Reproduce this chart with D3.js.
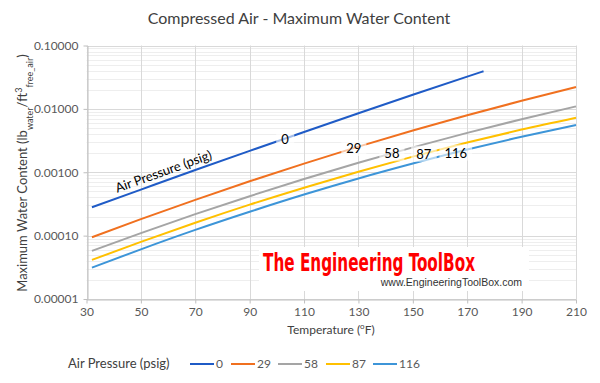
<!DOCTYPE html>
<html><head><meta charset="utf-8">
<script src="https://cdn.jsdelivr.net/npm/d3@7"></script>
<style>
body{margin:0;background:#fff;}
svg{display:block;font-family:Lato,"Open Sans",sans-serif;}
</style></head>
<body><svg id="c" width="600" height="383"></svg>
<script>
const temps = [32,50,70,90,110,130,150,170,190,210];
const temps0 = [32,50,70,90,110,130,150,170,176];
const p0   = [2.81e-4,5.33e-4,1.083e-3,2.175e-3,4.32e-3,8.52e-3,0.01668,0.0323,0.0393];
const p29  = [9.44e-5,1.82e-4,3.67e-4,7.21e-4,1.37e-3,2.54e-3,4.55e-3,7.93e-3,0.01343,0.02208];
const p58  = [5.74e-5,1.094e-4,2.18e-4,4.19e-4,7.82e-4,1.41e-3,2.47e-3,4.18e-3,6.88e-3,0.01094];
const p87  = [4.14e-5,7.96e-5,1.596e-4,3.08e-4,5.71e-4,1.021e-3,1.766e-3,2.94e-3,4.71e-3,7.26e-3];
const p116 = [3.13e-5,6.08e-5,1.23e-4,2.38e-4,4.45e-4,7.98e-4,1.372e-3,2.28e-3,3.63e-3,5.57e-3];
const seriesNames = ["0","29","58","87","116"];
const labelTemps = [103,128.3,142.3,154,165.8];
const xTicks = [30,50,70,90,110,130,150,170,190,210];
const yTicks = [0.00001,0.0001,0.001,0.01,0.1];
const colors = ["#1f5bc6","#f0701f","#a5a5a5","#ffc000","#3d95d8"];

const series = [
  {name:seriesNames[0], t:temps0, v:p0},
  {name:seriesNames[1], t:temps, v:p29},
  {name:seriesNames[2], t:temps, v:p58},
  {name:seriesNames[3], t:temps, v:p87},
  {name:seriesNames[4], t:temps, v:p116}
];

const svg = d3.select("#c");
const x = d3.scaleLinear().domain([30,210]).range([86.5,576]);
const y = d3.scaleLog().domain([1e-5,0.1]).range([299,45.5]);

// minor gridlines
const minor = [];
for (let e=-5;e<-1;e++) for (let m=2;m<=9;m++) minor.push(m*Math.pow(10,e));
svg.append("g").selectAll("line").data(minor).join("line")
  .attr("x1",x(30)).attr("x2",x(210))
  .attr("y1",d=>Math.round(y(d))+0.5).attr("y2",d=>Math.round(y(d))+0.5)
  .attr("stroke","#eeeeee").attr("stroke-width",1);
// major gridlines
svg.append("g").selectAll("line").data(yTicks).join("line")
  .attr("x1",x(30)).attr("x2",x(210))
  .attr("y1",d=>Math.round(y(d))+0.5).attr("y2",d=>Math.round(y(d))+0.5)
  .attr("stroke","#d9d9d9").attr("stroke-width",1);
svg.append("g").selectAll("line").data(xTicks).join("line")
  .attr("x1",d=>Math.round(x(d))+0.5).attr("x2",d=>Math.round(x(d))+0.5)
  .attr("y1",y(0.1)).attr("y2",y(1e-5))
  .attr("stroke","#d9d9d9").attr("stroke-width",1);

// axes
const xAxis = svg.append("g").attr("transform",`translate(0,${Math.round(y(1e-5))+0.5})`)
  .call(d3.axisBottom(x).tickValues(xTicks).tickSize(4).tickSizeOuter(0).tickPadding(4));
xAxis.select(".domain").attr("stroke","#bfbfbf");
xAxis.selectAll(".tick line").attr("stroke","#bfbfbf");
xAxis.selectAll("text").attr("fill","#595959").style("font-size","12px").style("font-family","Lato,sans-serif");

const yAxis = svg.append("g").attr("transform",`translate(${Math.round(x(30))+0.5},0)`)
  .call(d3.axisLeft(y).tickValues(yTicks).tickFormat(d3.format(".5f")).tickSize(4).tickSizeOuter(0).tickPadding(5));
yAxis.select(".domain").attr("stroke","#bfbfbf");
yAxis.selectAll(".tick line").attr("stroke","#bfbfbf");
yAxis.selectAll("text").attr("fill","#595959").style("font-size","12px").style("font-family","Lato,sans-serif");

// watermark
svg.append("rect").attr("x",259).attr("y",247).attr("width",270).attr("height",44).attr("fill","#fff");
svg.append("text").attr("x",263).attr("y",271).attr("textLength",212).attr("lengthAdjust","spacingAndGlyphs")
  .attr("fill","#ff0000").style("font-family","'Liberation Sans Narrow','DejaVu Sans Condensed',sans-serif")
  .style("font-weight","bold").style("font-size","24px").text("The Engineering ToolBox");
svg.append("text").attr("x",522).attr("y",286).attr("text-anchor","end")
  .attr("fill","#333").style("font-family","'Liberation Sans',Arial,sans-serif").style("font-size","10.5px")
  .text("www.EngineeringToolBox.com");

// lines
const line = d3.line().curve(d3.curveMonotoneX);
series.forEach((s,i)=>{
  const pts = s.t.map((t,j)=>[x(t),y(s.v[j])]);
  svg.append("path").attr("d",line(pts)).attr("fill","none")
    .attr("stroke",colors[i]).attr("stroke-width",2);
});

function interpY(s,t){
  const lv = s.v.map(Math.log10);
  const yy = d3.scaleLinear().domain(s.t).range(lv);
  return y(Math.pow(10,yy(t)));
}

// data labels
series.forEach((s,i)=>{
  const t = labelTemps[i];
  const cx = x(t), cy = interpY(s,t);
  const txt = svg.append("text").attr("x",cx).attr("y",cy+5).attr("text-anchor","middle")
    .attr("fill","#000").style("font-size","13px").text(s.name);
  const bb = txt.node().getBBox();
  svg.insert("rect", () => txt.node()).attr("x",bb.x-5).attr("y",bb.y).attr("width",bb.width+10).attr("height",bb.height)
    .attr("fill","#fff").attr("fill-opacity",0.6);
});

// rotated annotation along blue line
{
  const s = series[0];
  const t = 59.5;
  const px = x(t), py = interpY(s,t);
  const x1 = x(50), y1 = interpY(s,50), x2 = x(70), y2 = interpY(s,70);
  const ang = Math.atan2(y2-y1,x2-x1)*180/Math.PI;
  svg.append("text").attr("transform",`translate(${px},${py}) rotate(${ang})`)
    .attr("y",-5).attr("text-anchor","middle").attr("fill","#000").style("font-size","13px")
    .text("Air Pressure (psig)");
}

// title
svg.append("text").attr("x",299).attr("y",24).attr("text-anchor","middle")
  .attr("fill","#404040").style("font-size","16px").text("Compressed Air - Maximum Water Content");

// axis titles
svg.append("text").attr("x",331).attr("y",334).attr("text-anchor","middle").attr("fill","#404040")
  .style("font-size","12px")
  .call(t=>{t.append("tspan").text("Temperature (");
    t.append("tspan").attr("baseline-shift","super").style("font-size","8px").text("o");
    t.append("tspan").text("F)");});

const yt = svg.append("text").attr("transform",`translate(27,173) rotate(-90)`).attr("text-anchor","middle")
  .attr("fill","#404040").style("font-size","13px");
yt.append("tspan").text("Maximum Water Content (lb");
yt.append("tspan").attr("baseline-shift","sub").style("font-size","9px").text("water");
yt.append("tspan").text("/ft");
yt.append("tspan").attr("baseline-shift","super").style("font-size","9px").text("3");
yt.append("tspan").attr("baseline-shift","sub").style("font-size","9px").text("free_air");
yt.append("tspan").text(")");

// legend
svg.append("text").attr("x",68).attr("y",368).attr("fill","#404040").style("font-size","13px").text("Air Pressure (psig)");
const legX = [190,231,278,326,373];
series.forEach((s,i)=>{
  svg.append("line").attr("x1",legX[i]).attr("x2",legX[i]+24).attr("y1",364).attr("y2",364)
    .attr("stroke",colors[i]).attr("stroke-width",2);
  svg.append("text").attr("x",legX[i]+26).attr("y",368).attr("fill","#595959").style("font-size","12px").text(s.name);
});
</script></body></html>
